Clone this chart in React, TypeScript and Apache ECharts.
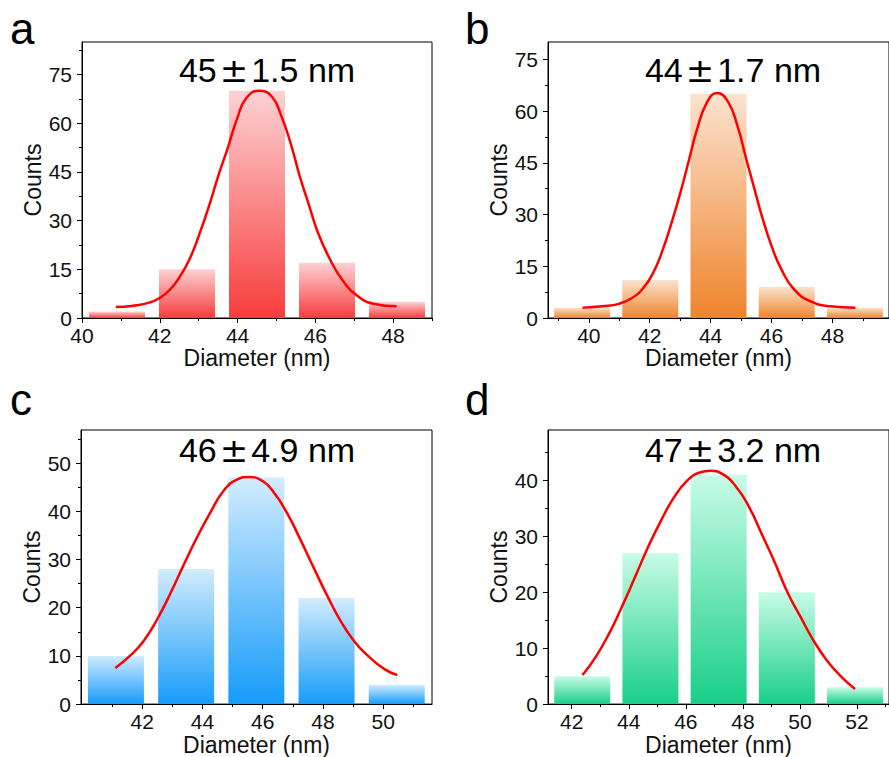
import React, { useEffect, useRef } from "react";
import * as echarts from "echarts";

// ---- Panel a ----
const binsA = [40.9, 42.7, 44.5, 46.3, 48.1];
const countsA = [2, 15, 70, 17, 5];
const fitXA = [40.87, 41.32, 41.75, 42.0, 42.26, 42.52, 42.78, 43.03, 43.29, 43.5, 43.76, 43.98, 44.23, 44.56, 44.88, 45.13, 45.39, 45.6, 45.82, 46.07, 46.38, 46.72, 47.1, 47.49, 48.09];
const fitYA = [3.4, 3.8, 4.8, 6.2, 8.7, 12.8, 18.5, 26.2, 35.4, 43.6, 52.8, 61.1, 67.8, 70.0, 68.2, 62.1, 52.8, 43.6, 35.4, 26.2, 18.0, 11.3, 6.7, 4.4, 3.6];
const xTicksA = [40, 42, 44, 46, 48];
const xMinorA = [41, 43, 45, 47, 49];
const yTicksA = [0, 15, 30, 45, 60, 75];
const yMinorA = [7.5, 22.5, 37.5, 52.5, 67.5, 82.5];

// ---- Panel b ----
const binsB = [39.78, 42.02, 44.26, 46.5, 48.74];
const countsB = [3, 11, 65, 9, 3];
const fitXB = [39.8, 40.46, 40.99, 41.42, 41.79, 42.11, 42.43, 42.75, 43.02, 43.29, 43.55, 43.87, 44.21, 44.57, 44.89, 45.15, 45.42, 45.69, 46.01, 46.33, 46.75, 47.29, 47.93, 48.76];
const fitYB = [3.0, 3.4, 4.1, 5.8, 8.7, 13.0, 19.8, 28.5, 36.7, 45.8, 54.5, 62.3, 65.2, 62.7, 55.5, 46.8, 38.1, 29.4, 20.7, 14.0, 8.2, 4.8, 3.4, 3.0];
const xTicksB = [40, 42, 44, 46, 48];
const xMinorB = [39, 41, 43, 45, 47, 49];
const yTicksB = [0, 15, 30, 45, 60, 75];
const yMinorB = [7.5, 22.5, 37.5, 52.5, 67.5];

// ---- Panel c ----
const binsC = [41.13, 43.46, 45.79, 48.12, 50.45];
const countsC = [10, 28, 47, 22, 4];
const fitXC = [41.11, 41.61, 42.05, 42.5, 42.94, 43.38, 43.83, 44.27, 44.71, 45.16, 45.54, 45.93, 46.37, 46.82, 47.26, 47.7, 48.15, 48.59, 49.03, 49.48, 50.03, 50.47];
const fitYC = [7.5, 10.1, 13.1, 17.6, 23.0, 28.9, 34.7, 39.8, 44.3, 46.6, 47.1, 46.5, 43.9, 39.5, 34.0, 28.2, 22.4, 17.2, 13.1, 10.1, 7.3, 6.0];
const xTicksC = [42, 44, 46, 48, 50];
const xMinorC = [41, 43, 45, 47, 49, 51];
const yTicksC = [0, 10, 20, 30, 40, 50];
const yMinorC = [5, 15, 25, 35, 45, 55];

// ---- Panel d ----
const binsD = [42.37, 44.76, 47.15, 49.54, 51.93];
const countsD = [5, 27, 41, 20, 3];
const fitXD = [42.38, 42.85, 43.31, 43.76, 44.22, 44.67, 45.13, 45.58, 46.04, 46.49, 46.86, 47.29, 47.74, 48.2, 48.66, 49.11, 49.56, 50.02, 50.47, 50.93, 51.39, 51.93];
const fitYD = [5.2, 8.5, 12.6, 17.4, 22.7, 28.0, 32.8, 36.9, 39.9, 41.4, 41.7, 41.1, 39.0, 35.4, 30.4, 25.4, 20.0, 15.6, 11.4, 7.9, 5.2, 2.7];
const xTicksD = [42, 44, 46, 48, 50, 52];
const xMinorD = [43, 45, 47, 49, 51, 53];
const yTicksD = [0, 10, 20, 30, 40];
const yMinorD = [5, 15, 25, 35, 45];

const titles = ["45", "44", "46", "47"];
const spreads = ["1.5 nm", "1.7 nm", "4.9 nm", "3.2 nm"];
const letters = ["a", "b", "c", "d"];

const FONT = "'Liberation Sans', Arial, sans-serif";

type Panel = {
  bins: number[];
  counts: number[];
  fitX: number[];
  fitY: number[];
  xTicks: number[];
  xMinor: number[];
  yTicks: number[];
  yMinor: number[];
  xMin: number;
  xMax: number;
  yMax: number;
  grid: { left: number; top: number; width: number; height: number };
  colors: [string, string];
  titleX: number;
  titleTop: number;
  letterX: number;
  letterTop: number;
};

const panels: Panel[] = [
  {
    bins: binsA, counts: countsA, fitX: fitXA, fitY: fitYA,
    xTicks: xTicksA, xMinor: xMinorA, yTicks: yTicksA, yMinor: yMinorA,
    xMin: 40, xMax: 49, yMax: 85,
    grid: { left: 82, top: 42, width: 350, height: 276 },
    colors: ["#fdd2d4", "#f83c3c"],
    titleX: 267, titleTop: 53, letterX: 10, letterTop: 6,
  },
  {
    bins: binsB, counts: countsB, fitX: fitXB, fitY: fitYB,
    xTicks: xTicksB, xMinor: xMinorB, yTicks: yTicksB, yMinor: yMinorB,
    xMin: 38.66, xMax: 49.86, yMax: 80,
    grid: { left: 548, top: 42, width: 350, height: 276 },
    colors: ["#fbe3cf", "#ef842c"],
    titleX: 733, titleTop: 53, letterX: 465, letterTop: 6,
  },
  {
    bins: binsC, counts: countsC, fitX: fitXC, fitY: fitYC,
    xTicks: xTicksC, xMinor: xMinorC, yTicks: yTicksC, yMinor: yMinorC,
    xMin: 39.97, xMax: 51.62, yMax: 56.85,
    grid: { left: 81, top: 430, width: 351, height: 277 },
    colors: ["#d2ecfd", "#169cfb"],
    titleX: 267, titleTop: 433, letterX: 10, letterTop: 377,
  },
  {
    bins: binsD, counts: countsD, fitX: fitXD, fitY: fitYD,
    xTicks: xTicksD, xMinor: xMinorD, yTicks: yTicksD, yMinor: yMinorD,
    xMin: 41.17, xMax: 53.12, yMax: 49,
    grid: { left: 548, top: 430, width: 350, height: 276 },
    colors: ["#c8fce6", "#19cf8a"],
    titleX: 733, titleTop: 433, letterX: 465, letterTop: 377,
  },
];

function buildOption(): echarts.EChartsCoreOption {
  const grid: any[] = [];
  const xAxis: any[] = [];
  const yAxis: any[] = [];
  const series: any[] = [];
  const graphic: any[] = [];

  panels.forEach((p, i) => {
    grid.push({
      ...p.grid,
      show: true,
      borderColor: "#000",
      borderWidth: 1,
      backgroundColor: "transparent",
    });
    // main x axis: labelled ticks
    xAxis.push({
      gridIndex: i,
      type: "value",
      position: "bottom",
      min: p.xMin,
      max: p.xMax,
      name: "Diameter (nm)",
      nameLocation: "middle",
      nameGap: 28,
      nameTextStyle: { fontFamily: FONT, fontSize: 23, color: "#111" },
      axisLine: { show: true, onZero: false, lineStyle: { color: "#000", width: 1 } },
      axisTick: { show: true, inside: false, length: 5, customValues: p.xTicks, lineStyle: { color: "#000" } },
      axisLabel: { show: true, customValues: p.xTicks, margin: 7, fontFamily: FONT, fontSize: 21, color: "#111" },
      splitLine: { show: false },
    });
    // minor x ticks
    xAxis.push({
      gridIndex: i,
      type: "value",
      position: "bottom",
      min: p.xMin,
      max: p.xMax,
      axisLine: { show: false, onZero: false },
      axisTick: { show: true, inside: false, length: 3, customValues: p.xMinor, lineStyle: { color: "#000" } },
      axisLabel: { show: false },
      splitLine: { show: false },
    });
    yAxis.push({
      gridIndex: i,
      type: "value",
      position: "left",
      min: 0,
      max: p.yMax,
      name: "Counts",
      nameLocation: "middle",
      nameGap: 38,
      nameTextStyle: { fontFamily: FONT, fontSize: 23, color: "#111" },
      axisLine: { show: true, onZero: false, lineStyle: { color: "#000", width: 1 } },
      axisTick: { show: true, inside: false, length: 5, customValues: p.yTicks, lineStyle: { color: "#000" } },
      axisLabel: { show: true, customValues: p.yTicks, margin: 10, fontFamily: FONT, fontSize: 21, color: "#111" },
      splitLine: { show: false },
    });
    yAxis.push({
      gridIndex: i,
      type: "value",
      position: "left",
      min: 0,
      max: p.yMax,
      axisLine: { show: false, onZero: false },
      axisTick: { show: true, inside: false, length: 3, customValues: p.yMinor, lineStyle: { color: "#000" } },
      axisLabel: { show: false },
      splitLine: { show: false },
    });

    series.push({
      type: "bar",
      xAxisIndex: 2 * i,
      yAxisIndex: 2 * i,
      barWidth: 56,
      data: p.bins.map((b, k) => [b, p.counts[k]]),
      itemStyle: {
        color: new echarts.graphic.LinearGradient(0, 0, 0, 1, [
          { offset: 0, color: p.colors[0] },
          { offset: 1, color: p.colors[1] },
        ]),
      },
    });
    series.push({
      type: "line",
      xAxisIndex: 2 * i,
      yAxisIndex: 2 * i,
      smooth: true,
      showSymbol: false,
      symbol: "none",
      data: p.fitX.map((x, k) => [x, p.fitY[k]]),
      lineStyle: { color: "#ff0000", width: 2.5 },
      z: 5,
    });

    graphic.push({
      type: "text",
      x: p.titleX,
      y: p.titleTop,
      style: {
        text: `{n|${titles[i]}}{pm|±}{n|${spreads[i]}}`,
        align: "center",
        verticalAlign: "top",
        rich: {
          n: { fontFamily: FONT, fontSize: 34, fill: "#000" },
          pm: { fontFamily: "'DejaVu Sans', sans-serif", fontSize: 34, fill: "#000", padding: [0, 3] },
        },
      },
    });
    graphic.push({
      type: "text",
      x: p.letterX,
      y: p.letterTop,
      style: {
        text: letters[i],
        fontFamily: FONT,
        fontSize: 44,
        fill: "#000",
        align: "left",
        verticalAlign: "top",
      },
    });
  });

  return {
    animation: false,
    backgroundColor: "#ffffff",
    grid,
    xAxis,
    yAxis,
    series,
    graphic,
  };
}

export default function App() {
  const ref = useRef<HTMLDivElement>(null);
  useEffect(() => {
    if (!ref.current) return;
    const chart = echarts.init(ref.current, undefined, { renderer: "svg" });
    chart.setOption(buildOption());
    return () => chart.dispose();
  }, []);
  return (
    <div
      ref={ref}
      style={{ position: "absolute", left: 0, top: 0, width: 889, height: 757, background: "#fff" }}
    />
  );
}
